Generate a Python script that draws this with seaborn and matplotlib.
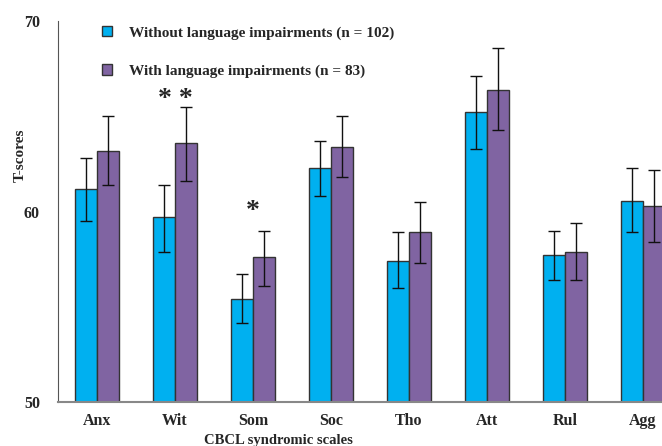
import numpy as np
import pandas as pd
import seaborn as sns
import matplotlib.pyplot as plt

scales = ["Anx", "Wit", "Som", "Soc", "Tho", "Att", "Rul", "Agg"]
groups = ["Without language impairments (n = 102)",
          "With language impairments (n = 83)"]
without_mean = [61.2, 59.7, 55.4, 62.3, 57.4, 65.2, 57.7, 60.55]
without_low = [59.5, 57.9, 54.15, 60.8, 56.0, 63.3, 56.4, 58.9]
without_high = [62.8, 61.4, 56.7, 63.7, 58.9, 67.1, 59.0, 62.3]
with_mean = [63.2, 63.6, 57.6, 63.4, 58.9, 66.4, 57.9, 60.3]
with_low = [61.4, 61.6, 56.1, 61.8, 57.3, 64.3, 56.4, 58.4]
with_high = [65.0, 65.5, 59.0, 65.0, 60.5, 68.6, 59.4, 62.2]
stars = {"Wit": "* *", "Som": "*"}
star_y = [65.9, 60.0]

df = pd.DataFrame({
    "scale": scales * 2,
    "group": [groups[0]] * 8 + [groups[1]] * 8,
    "score": without_mean + with_mean,
    "low": without_low + with_low,
    "high": without_high + with_high,
})

sns.set_style("white")
plt.rcParams["font.family"] = ["Liberation Serif", "DejaVu Serif"]
plt.rcParams["font.weight"] = "bold"

fig = plt.figure(figsize=(6.62, 4.46), dpi=100)
ax = fig.add_axes([58 / 662, 44 / 446, 624 / 662, 381 / 446])

palette = ["#00B0F0", "#8064A2"]
sns.barplot(data=df, x="scale", y="score", hue="group", palette=palette,
            errorbar=None, width=0.56, edgecolor="#333333", linewidth=1,
            saturation=1, ax=ax)

# error bars from the bar centres seaborn placed
bars = [p for p in ax.patches if p.get_height() > 0][:len(df)]
for p, (_, row) in zip(bars, df.iterrows()):
    xc = p.get_x() + p.get_width() / 2
    ax.errorbar(xc, row["score"],
                yerr=[[row["score"] - row["low"]], [row["high"] - row["score"]]],
                fmt="none", ecolor="#111111", elinewidth=1, capsize=4,
                capthick=1)

for (name, s), y in zip(stars.items(), star_y):
    ax.text(scales.index(name), y, s, ha="center", va="center",
            fontsize=20, fontweight="bold")

ax.set_ylim(50, 70)
ax.set_xlim(-0.5, 7.5)
ax.set_yticks([50, 60, 70])
ax.tick_params(axis="y", length=0, labelsize=11.5, pad=13)
ax.tick_params(axis="x", length=0, labelsize=11.5, pad=8)
ax.set_ylabel("T-scores", fontsize=11, fontweight="bold")
ax.yaxis.set_label_coords(-0.05, 0.648)
ax.set_xlabel("CBCL syndromic scales", fontsize=10.5, fontweight="bold")
ax.xaxis.set_label_coords(0.3526, -0.085)
for lbl in ax.get_xticklabels() + ax.get_yticklabels():
    lbl.set_fontweight("bold")
sns.despine(ax=ax, top=True, right=True)
ax.spines["left"].set_color("#555555")
ax.spines["bottom"].set_color("#888888")
ax.spines["bottom"].set_linewidth(1.5)

ax.legend(loc="upper left", bbox_to_anchor=(88 / 662, 1 - 12 / 446),
          bbox_transform=fig.transFigure, frameon=False,
          handlelength=0.7, handleheight=0.7, labelspacing=1.6,
          handletextpad=1.1, prop={"weight": "bold", "size": 11})

fig.savefig("out.png", dpi=100)
